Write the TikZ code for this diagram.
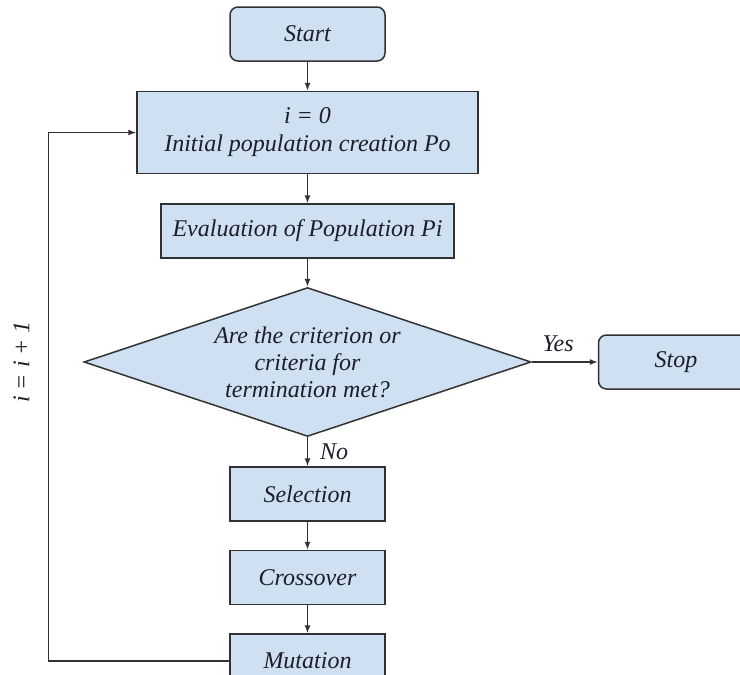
\documentclass[tikz,border=0pt]{standalone}
\usepackage{fontspec}
\setmainfont{Liberation Serif}
\usetikzlibrary{shapes,arrows,arrows.meta,positioning}
\definecolor{boxblue}{RGB}{206,224,241}
\definecolor{boxline}{RGB}{50,50,50}
\definecolor{boxtext}{RGB}{28,30,40}
\tikzstyle{block} = [rectangle, draw=boxline, line width=1.5pt, fill=boxblue, text=boxtext, align=center, minimum width=155pt, minimum height=54pt, font=\fontsize{24}{28}\selectfont\itshape]
\tikzstyle{blockr} = [block, rounded corners=8pt]
\tikzstyle{decision} = [diamond, aspect=3, draw=boxline, line width=1.5pt, fill=boxblue, text=boxtext, align=center, inner sep=0pt, minimum width=447pt, minimum height=149pt, font=\fontsize{24}{27}\selectfont\itshape]
\tikzstyle{line} = [draw=boxline, line width=1.2pt, -{Latex[length=8pt,width=6pt]}]
\tikzstyle{tag} = [text=boxtext, font=\fontsize{24}{28}\selectfont\itshape]

\begin{document}
\begin{tikzpicture}[x=1pt, y=-1pt]
    \useasboundingbox (0,0) rectangle (740,675);
    \clip (0,0) rectangle (740,675);
    \node [blockr] (start) at (307.5,34) {Start};
    \node [block, minimum width=341pt, minimum height=82pt, below=29pt of start] (init) {i = 0\\Initial population creation Po};
    \node [block, minimum width=293pt, below=29pt of init] (eval) {Evaluation of Population Pi};
    \node [decision, below=28pt of eval] (check) {Are the criterion or\\criteria for\\termination met?};
    \node [blockr, right=66pt of check] (stop) {Stop};
    \node [block, below=29pt of check] (sel) {Selection};
    \node [block, below=28pt of sel] (cross) {Crossover};
    \node [block, below=28pt of cross] (mut) {Mutation};
    \coordinate [left=181pt of mut.west] (mutlc);
    \coordinate [left=19pt of mutlc] (incrc);
    \path [line] (start) -- (init);
    \path [line] (init) -- (eval);
    \path [line] (eval) -- (check);
    \path [line] (check) -- node[tag, above, pos=0.4, inner sep=10pt]{Yes} (stop);
    \path [line] (check) -- node[tag, right, inner sep=12pt]{No} (sel);
    \path [line] (sel) -- (cross);
    \path [line] (cross) -- (mut);
    \path [line] (mut.west) -- (mutlc) |- (init.west);
    \node [tag, rotate=90, anchor=base] (incr) at (incrc |- check.west) {i = i + 1};
\end{tikzpicture}
\end{document}
